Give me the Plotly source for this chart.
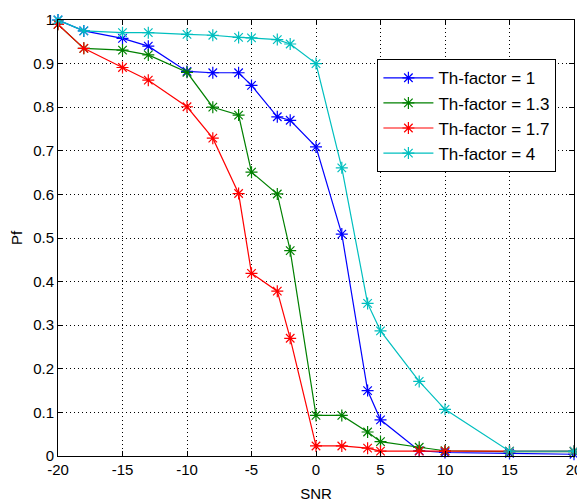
import plotly.graph_objects as go

snr = [-20, -18, -15, -13, -10, -8, -6, -5, -3, -2, 0, 2, 4, 5, 8, 10, 15, 20]

pf_th1 = [1.0, 0.975, 0.958, 0.94, 0.882, 0.879, 0.879, 0.85, 0.778, 0.77, 0.709, 0.509,
          0.15, 0.083, 0.012, 0.008, 0.006, 0.004]
pf_th13 = [0.99, 0.935, 0.931, 0.92, 0.88, 0.80, 0.782, 0.651, 0.601, 0.471, 0.093, 0.093,
           0.055, 0.033, 0.02, 0.012, 0.01, 0.01]
pf_th17 = [0.99, 0.935, 0.891, 0.862, 0.801, 0.729, 0.602, 0.419, 0.378, 0.27, 0.023, 0.023,
           0.018, 0.011, 0.011, 0.011, 0.011, 0.011]
pf_th4 = [1.0, 0.975, 0.971, 0.971, 0.967, 0.965, 0.96, 0.959, 0.955, 0.945, 0.90, 0.661,
          0.35, 0.287, 0.171, 0.107, 0.011, 0.011]

names = ["Th-factor = 1", "Th-factor = 1.3", "Th-factor = 1.7", "Th-factor = 4"]
colors = ["#0000FF", "#008000", "#FF0000", "#00BFBF"]
series = [pf_th1, pf_th13, pf_th17, pf_th4]

x_ticks = [-20, -15, -10, -5, 0, 5, 10, 15, 20]
x_ticktext = ["-20", "-15", "-10", "-5", "0", "5", "10", "15", "20"]
y_ticks = [0, 0.1, 0.2, 0.3, 0.4, 0.5, 0.6, 0.7, 0.8, 0.9, 1]
y_ticktext = ["0", "0.1", "0.2", "0.3", "0.4", "0.5", "0.6", "0.7", "0.8", "0.9", "1"]

FONT = "Liberation Sans, Arial, sans-serif"

fig = go.Figure()
for name, col, ys in zip(names, colors, series):
    fig.add_trace(go.Scatter(
        x=snr, y=ys, name=name, mode="lines+markers",
        line=dict(color=col, width=1.2),
        marker=dict(symbol="asterisk-open", size=10, color=col,
                    line=dict(color=col, width=1.2)),
        cliponaxis=False,
    ))

axis_common = dict(
    showline=True, linecolor="black", linewidth=1, mirror="ticks",
    ticks="inside", ticklen=5, tickcolor="black",
    showgrid=True, gridcolor="black", gridwidth=1, griddash="1px,3px",
    zeroline=False, ticklabeloverflow="allow",
    tickfont=dict(family=FONT, size=15, color="black"),
)

fig.update_layout(
    width=577, height=495,
    margin=dict(l=50, r=7, t=3, b=46),
    paper_bgcolor="white", plot_bgcolor="white",
    showlegend=True,
    legend=dict(
        x=0.619, y=0.91, xanchor="left", yanchor="top",
        bgcolor="white", bordercolor="black", borderwidth=1,
        font=dict(family=FONT, size=17, color="black"),
        itemwidth=50,
    ),
    xaxis=dict(range=[-20, 20], tickvals=x_ticks, ticktext=x_ticktext,
               title=dict(text="SNR", standoff=11,
                          font=dict(family=FONT, size=15, color="black")),
               **axis_common),
    yaxis=dict(range=[0, 1], tickvals=y_ticks, ticktext=y_ticktext,
               title=dict(text="Pf", standoff=10,
                          font=dict(family=FONT, size=15, color="black")),
               **axis_common),
)

fig.write_html("out.html")
